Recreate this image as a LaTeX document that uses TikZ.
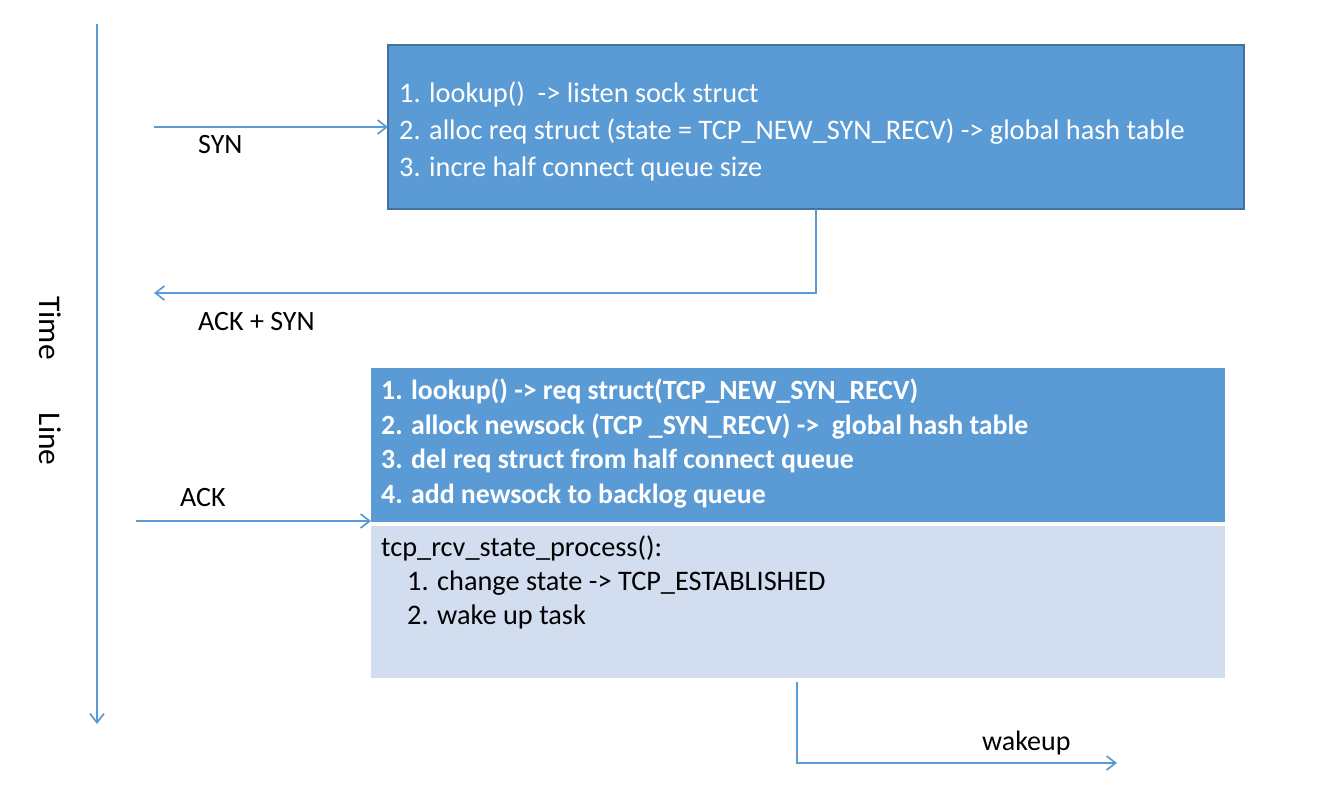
\documentclass[tikz,border=0pt]{standalone}
\usepackage{fontspec}
\setmainfont{Carlito}
\usetikzlibrary{arrows.meta}
\definecolor{cblue}{HTML}{5B9BD5}
\definecolor{cborder}{HTML}{41719C}
\definecolor{clight}{HTML}{D2DEEF}
\tikzset{
  conn/.style={draw=cblue, line width=1.7pt, -{Straight Barb[length=9pt,width=14pt,line width=1.7pt]}},
  boxdark/.style={fill=cblue, inner sep=0pt, outer sep=0pt},
  boxlight/.style={fill=clight, inner sep=0pt, outer sep=0pt},
  lbl/.style={font=\fontsize{28}{33}\selectfont, inner sep=0pt, anchor=west},
  boxtext/.style={font=\fontsize{28.3}{37}\selectfont, inner sep=0pt, anchor=west, align=left},
}
\begin{document}
\begin{tikzpicture}[x=1pt,y=-1pt]
\useasboundingbox[fill=white] (0,0) rectangle (1326,794);
% time line
\coordinate (tltop) at (97,24);
\coordinate (tlbot) at (97,724);
\draw[conn] (tltop) -- (tlbot);
\node[font=\fontsize{31.5}{37}\selectfont, rotate=-90, inner sep=0pt] (tl) at (50,381) {Time\hspace*{53pt}Line};
% box 1
\node[boxdark, draw=cborder, line width=2.2pt, minimum width=856pt, minimum height=164pt] (b1) at (816,127) {};
\node[boxtext, text=white] (t1) at (399,131) {1. lookup()\ \ -> listen sock struct\\2. alloc req struct (state = TCP\_NEW\_SYN\_RECV) -> global hash table\\3. incre half connect queue size};
% SYN
\coordinate (synsrc) at (154,127);
\draw[conn] (synsrc) -- (b1.west);
\node[lbl] (lsyn) at (198,145) {SYN};
% ACK+SYN
\coordinate (acksyndst) at (154,293);
\draw[conn] (b1.south) |- (acksyndst);
\node[lbl] (lacksyn) at (198,322) {ACK + SYN};
% box 2
\node[boxdark, minimum width=854pt, minimum height=154pt] (b2) at (798,445) {};
\node[boxtext, text=white, font=\fontsize{27.8}{34.7}\selectfont\bfseries] (t2) at (381,443.5) {1. lookup() -> req struct(TCP\_NEW\_SYN\_RECV)\\2. allock newsock (TCP \_SYN\_RECV) ->\ \  global hash table\\3. del req struct from half connect queue\\4. add newsock to backlog queue};
% box 3
\node[boxlight, minimum width=854pt, minimum height=152pt] (b3) at (798,602) {};
\node[boxtext, text=black, font=\fontsize{28.3}{34.3}\selectfont] (t3) at (381,582.5) {tcp\_rcv\_state\_process():\\\hspace*{26pt}1. change state -> TCP\_ESTABLISHED\\\hspace*{26pt}2. wake up task};
% ACK
\coordinate (acksrc) at (136,521);
\coordinate (ackdst) at (371,521);
\draw[conn] (acksrc) -- (ackdst);
\node[lbl] (lack) at (180,498) {ACK};
% wakeup
\coordinate (wusrc) at (797,682);
\coordinate (wudst) at (1117,763);
\draw[conn] (wusrc) |- (wudst);
\node[lbl] (lwake) at (982,743) {wakeup};
\end{tikzpicture}
\end{document}
